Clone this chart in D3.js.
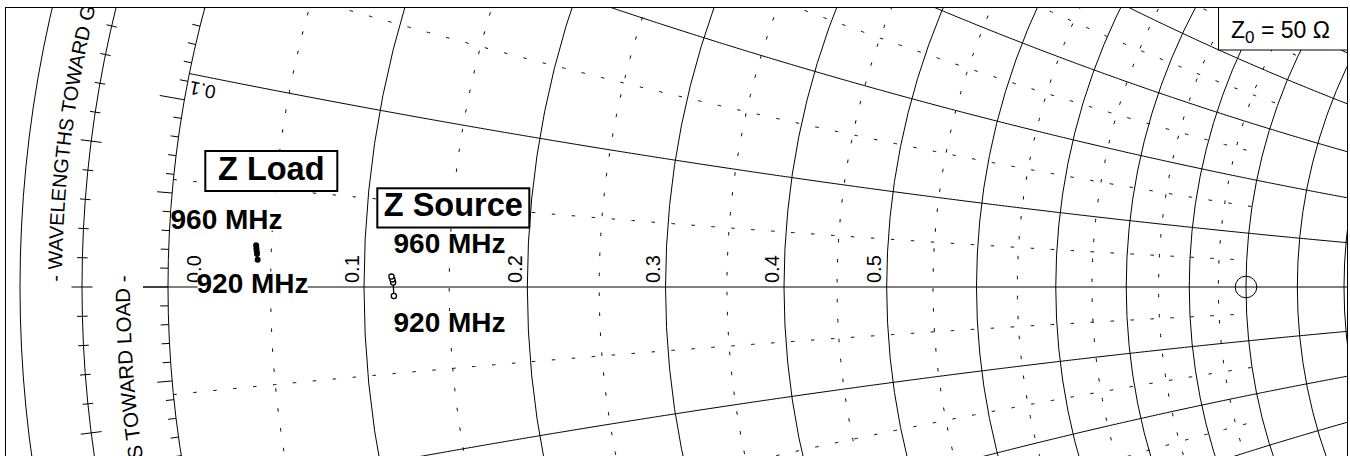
<!DOCTYPE html>
<html>
<head>
<meta charset="utf-8">
<script src="https://cdn.jsdelivr.net/npm/d3@7"></script>
<style>
  html, body { margin: 0; padding: 0; background: #fff; }
  svg { display: block; font-family: "Liberation Sans", Arial, Helvetica, sans-serif; }
</style>
</head>
<body>
<svg id="chart" width="1350" height="456"></svg>
<script>
// ---- Smith chart grid values (normalised impedance) ----
const majorResistance = [0.1, 0.2, 0.3, 0.4, 0.5, 0.6, 0.7, 0.8, 0.9, 1.0, 1.1, 1.2, 1.3, 1.4, 1.5, 1.6, 1.8, 2.0, 3, 4, 5, 10, 20];
const minorResistance = [0.05, 0.15, 0.25, 0.35, 0.45, 0.55, 0.65, 0.75, 0.85, 0.95];
const majorReactance = [0.1, 0.2, 0.3, 0.4, 0.5, 0.6, 0.7, 0.8, 0.9, 1.0, 1.2, 1.4, 1.6, 1.8, 2.0, 3, 4, 5, 10, 20];
const minorReactance = [0.05, 0.15, 0.25, 0.35, 0.45, 0.55, 0.65, 0.75, 0.85, 0.95];
const resistanceLabels = ["0.0", "0.1", "0.2", "0.3", "0.4", "0.5"];
const reactanceLabels = ["0.1", "0.2", "0.3", "0.4", "0.5"];

// ---- outer rim scales ----
const angleTicksDeg = d3.range(-40, 41);        // reflection-coefficient angle, 1 degree steps
const wavelengthTicks = d3.range(-30, 31);      // 0.002 wavelength steps
const wavelengthStep = 0.002;

// ---- measured impedances (ohms) ----
const z0 = 50;
const loadFreqMHz = [920, 930, 940, 950, 960];
const loadR = [2.16, 2.14, 2.13, 2.12, 2.11];
const loadX = [0.69, 0.83, 0.90, 0.97, 1.05];
const sourceFreqMHz = [920, 940, 950, 960];
const sourceR = [5.85, 5.83, 5.81, 5.78];
const sourceX = [-0.26, 0.13, 0.22, 0.30];

// ---- layout ----
const cx = 1246, cy = 287, R = 1078;           // chart centre and unit-circle radius in px
const frame = { x0: 5.5, y0: 7.5, x1: 1347.5, y1: 475 };

const svg = d3.select("#chart");
const gx = d3.scaleLinear().domain([-1, 1]).range([cx - R, cx + R]);
const gy = d3.scaleLinear().domain([-1, 1]).range([cy + R, cy - R]);
const line = d3.line().x(d => gx(d[0])).y(d => gy(d[1]));

function zToGamma(r, x) {
  const den = (r + 1) * (r + 1) + x * x;
  return [(r * r + x * x - 1) / den, (2 * x) / den];
}
function polar(rho, aDeg) {            // angle measured from the left end of the real axis, positive upward
  const a = aDeg * Math.PI / 180;
  return [-rho * Math.cos(a), rho * Math.sin(a)];
}
function reactancePoints(x, rMax) {
  const tMax = rMax / (1 + rMax), n = 700;
  return d3.range(n + 1).map(i => {
    const t = tMax * i / n;
    return zToGamma(t / (1 - t), x);
  });
}

const defs = svg.append("defs");
defs.append("clipPath").attr("id", "plotClip")
  .append("rect")
  .attr("x", frame.x0).attr("y", frame.y0)
  .attr("width", frame.x1 - frame.x0).attr("height", frame.y1 - frame.y0);

const plot = svg.append("g").attr("clip-path", "url(#plotClip)");

// minor (dotted) grid
const dotted = plot.append("g")
  .attr("fill", "none").attr("stroke", "#000").attr("stroke-width", 1)
  .attr("stroke-dasharray", "3.5 16.5");
dotted.selectAll("circle").data(minorResistance).join("circle")
  .attr("cx", r => gx(r / (1 + r))).attr("cy", gy(0))
  .attr("r", r => gx(1 / (1 + r)) - gx(0));
dotted.selectAll("path")
  .data(minorReactance.flatMap(v => [v, -v])).join("path")
  .attr("d", x => line(reactancePoints(x, 1)));

// major (solid) grid
const solid = plot.append("g")
  .attr("fill", "none").attr("stroke", "#000").attr("stroke-width", 1);
solid.selectAll("circle.res").data(majorResistance).join("circle")
  .attr("class", "res")
  .attr("cx", r => gx(r / (1 + r))).attr("cy", gy(0))
  .attr("r", r => gx(1 / (1 + r)) - gx(0));
solid.selectAll("path.reac")
  .data(majorReactance.flatMap(v => [v, -v])).join("path")
  .attr("class", "reac")
  .attr("d", x => line(reactancePoints(x, 1e4)));

// unit circle and outer scale rings
const rimRings = [1, 1164 / R, 1226 / R];
solid.selectAll("circle.ring").data(rimRings).join("circle")
  .attr("class", "ring")
  .attr("cx", gx(0)).attr("cy", gy(0)).attr("r", rho => gx(rho) - gx(0));

// real axis
solid.append("path").attr("d", line([[-1 - 25 / R, 0], [1, 0]]));

// angle ticks on the unit circle (outward)
const tickLen = d => (d % 10 === 0 ? 25 : d % 5 === 0 ? 15 : 8);
solid.selectAll("path.atick").data(angleTicksDeg).join("path")
  .attr("class", "atick")
  .attr("d", d => line([polar(1, d), polar(1 + tickLen(d) / R, d)]));

// wavelength ticks crossing the middle ring
const wlRho = 1164 / R;
const wlHalf = i => (i % 5 === 0 ? 10.5 : 5.3) / R;
solid.selectAll("path.wtick").data(wavelengthTicks).join("path")
  .attr("class", "wtick")
  .attr("d", i => {
    const a = i * wavelengthStep * 720;
    return line([polar(wlRho - wlHalf(i), a), polar(wlRho + wlHalf(i), a)]);
  });

// text around the rim, running upward on the left side
function ringArcUp(rho, a0Deg, a1Deg) {
  const p = d3.path();
  p.arc(gx(0), gy(0), gx(rho) - gx(0),
        Math.PI + a0Deg * Math.PI / 180, Math.PI + a1Deg * Math.PI / 180, false);
  return p.toString();
}
defs.append("path").attr("id", "genArc").attr("d", ringArcUp(1184 / R, 0.25, 40));
defs.append("path").attr("id", "loadArc").attr("d", ringArcUp(1116 / R, -40, 0.6));

const ringText = plot.append("g").attr("font-size", 20).attr("fill", "#000");
ringText.append("text").append("textPath")
  .attr("href", "#genArc").attr("startOffset", 0)
  .text("- WAVELENGTHS TOWARD GENERATOR -");
ringText.append("text").append("textPath")
  .attr("href", "#loadArc").attr("startOffset", "100%").attr("text-anchor", "end")
  .attr("font-size", 20.5)
  .text("- WAVELENGTHS TOWARD LOAD -");

// resistance labels along the real axis
plot.append("g").attr("font-size", 20)
  .selectAll("text").data(resistanceLabels).join("text")
  .attr("transform", s => {
    const r = +s;
    const xb = r === 0 ? gx(-1) + 32.5 : gx((r - 1) / (r + 1)) - 5.5;
    return `translate(${xb},${gy(0) - 4}) rotate(-90)`;
  })
  .text(s => s);

// reactance labels at the rim
plot.append("g").attr("font-size", 19)
  .selectAll("text").data(reactanceLabels).join("text")
  .attr("text-anchor", "end")
  .attr("transform", s => {
    const pts = reactancePoints(+s, 1e4);
    const p0 = [gx(pts[0][0]), gy(pts[0][1])];
    const p1 = [gx(pts[6][0]), gy(pts[6][1])];
    const ang = Math.atan2(p1[1] - p0[1], p1[0] - p0[0]) * 180 / Math.PI;
    return `translate(${p0[0]},${p0[1]}) rotate(${ang + 180})`;
  })
  .attr("x", -3).attr("y", -7)
  .text(s => s);

// centre marker
plot.append("circle")
  .attr("cx", gx(0)).attr("cy", gy(0)).attr("r", 10.8)
  .attr("fill", "none").attr("stroke", "#000").attr("stroke-width", 1);

// measured impedance traces
const loadPts = loadR.map((r, i) => zToGamma(r / z0, loadX[i] / z0));
const sourcePts = sourceR.map((r, i) => zToGamma(r / z0, sourceX[i] / z0));

plot.append("path").attr("d", line(loadPts))
  .attr("fill", "none").attr("stroke", "#000").attr("stroke-width", 2);
plot.selectAll("circle.load").data(loadPts).join("circle")
  .attr("class", "load")
  .attr("cx", d => gx(d[0])).attr("cy", d => gy(d[1])).attr("r", 3)
  .attr("fill", "#000");

plot.append("path").attr("d", line(sourcePts))
  .attr("fill", "none").attr("stroke", "#000").attr("stroke-width", 1.3);
plot.selectAll("circle.src").data(sourcePts).join("circle")
  .attr("class", "src")
  .attr("cx", d => gx(d[0])).attr("cy", d => gy(d[1])).attr("r", 2.6)
  .attr("fill", "#fff").attr("stroke", "#000").attr("stroke-width", 1.3);

// annotations
const ann = svg.append("g");
const freqLabels = [
  { text: `${d3.max(loadFreqMHz)} MHz`, x: 170.5, y: 228.5 },
  { text: `${d3.min(loadFreqMHz)} MHz`, x: 196.5, y: 292.5 },
  { text: `${d3.max(sourceFreqMHz)} MHz`, x: 393.5, y: 253 },
  { text: `${d3.min(sourceFreqMHz)} MHz`, x: 393.5, y: 332 }
];
freqLabels.forEach(l => {
  const g = ann.append("g");
  const bg = g.append("rect").attr("fill", "#fff");
  const t = g.append("text")
    .attr("x", l.x).attr("y", l.y)
    .attr("font-size", 28).attr("font-weight", "bold")
    .text(l.text);
  const b = t.node().getBBox();
  bg.attr("x", b.x + 1).attr("y", b.y + 4).attr("width", b.width - 2).attr("height", b.height - 8);
});

const titles = [
  { text: "Z Load", x: 205.3, y: 151, w: 132, h: 40 },
  { text: "Z Source", x: 377.3, y: 188.3, w: 152, h: 39.2 }
];
titles.forEach(tb => {
  ann.append("rect")
    .attr("x", tb.x).attr("y", tb.y).attr("width", tb.w).attr("height", tb.h)
    .attr("fill", "#fff").attr("stroke", "#000").attr("stroke-width", 2);
  ann.append("text")
    .attr("x", tb.x + tb.w / 2).attr("y", tb.y + tb.h - 11.5)
    .attr("text-anchor", "middle")
    .attr("font-size", 32.5).attr("font-weight", "bold")
    .text(tb.text);
});

// frame
svg.append("rect")
  .attr("x", frame.x0).attr("y", frame.y0)
  .attr("width", frame.x1 - frame.x0).attr("height", frame.y1 - frame.y0)
  .attr("fill", "none").attr("stroke", "#000").attr("stroke-width", 1);

// characteristic impedance box
const zbox = svg.append("g");
zbox.append("rect")
  .attr("x", 1218.5).attr("y", frame.y0)
  .attr("width", frame.x1 - 1218.5).attr("height", 50 - frame.y0)
  .attr("fill", "#fff").attr("stroke", "#000").attr("stroke-width", 1);
const zt = zbox.append("text").attr("x", 1231).attr("y", 37.5).attr("font-size", 23);
zt.append("tspan").text("Z");
zt.append("tspan").attr("font-size", 17).attr("dy", 5).text("0");
zt.append("tspan").attr("dy", -5).text(` = ${z0} \u03A9`);
</script>
</body>
</html>
